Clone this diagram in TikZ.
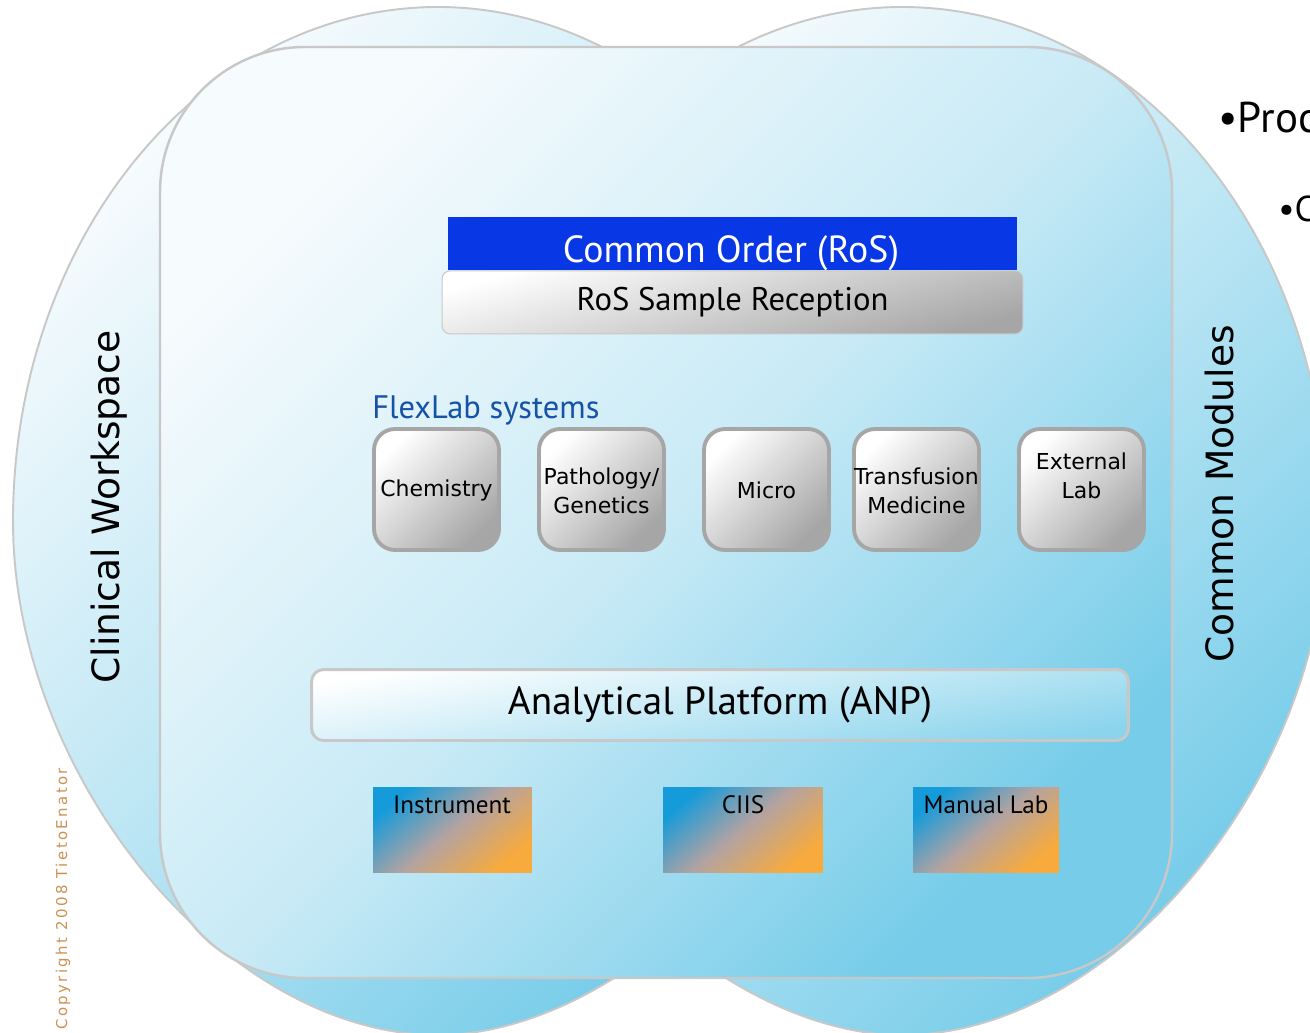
\documentclass[tikz,border=0pt]{standalone}
\usepackage{fontspec}
\setmainfont{DejaVu Sans}
\newfontfamily\slimfont{PT Sans}
\usetikzlibrary{positioning}

\definecolor{paleblue}{RGB}{246,251,253}
\definecolor{skyblue}{RGB}{118,204,233}
\definecolor{rimgrey}{RGB}{200,200,200}
\definecolor{boxgrey}{RGB}{166,166,166}
\definecolor{orderblue}{RGB}{8,55,230}
\definecolor{flexblue}{RGB}{22,82,168}
\definecolor{srcblue}{RGB}{22,155,218}
\definecolor{srcorange}{RGB}{248,170,60}
\definecolor{srcmid}{RGB}{180,163,160}
\definecolor{copyorange}{RGB}{204,145,82}

\tikzset{
  lobe/.style={draw=rimgrey, line width=1.1pt, top color=paleblue, bottom color=skyblue, middle color=skyblue!45!paleblue, shading angle=45},
  panel/.style={draw=rimgrey, line width=1.4pt, top color=paleblue, bottom color=skyblue, middle color=skyblue!35!paleblue, shading angle=45, rounded corners=2.9cm},
  orderbar/.style={fill=orderblue, minimum width=11.38cm, minimum height=1.06cm, inner sep=0pt},
  receptbar/.style={draw=rimgrey, line width=0.6pt, top color=white, bottom color=boxgrey, shading angle=15, rounded corners=0.16cm,
    minimum width=11.62cm, minimum height=1.26cm, inner sep=0pt, font=\slimfont\fontsize{18.6}{22}\selectfont},
  labbox/.style={draw=boxgrey, line width=2.2pt, top color=white, bottom color=boxgrey, shading angle=45, rounded corners=0.42cm,
    minimum width=2.5cm, minimum height=2.42cm, inner sep=0pt},
  labtext/.style={font=\fontsize{12.5}{16.5}\selectfont, align=center, inner sep=0pt},
  anpbar/.style={draw=rimgrey, line width=1.7pt, top color=white, bottom color=skyblue!85!white, shading angle=10, rounded corners=0.24cm,
    minimum width=16.34cm, minimum height=1.42cm, inner sep=0pt, font=\slimfont\fontsize{22.3}{26}\selectfont},
  srcbox/.style={top color=srcblue, bottom color=srcorange, middle color=srcmid, shading angle=40, minimum height=1.7cm, inner sep=0pt},
  srctext/.style={font=\slimfont\fontsize{14.3}{17}\selectfont, anchor=base, inner sep=0pt},
  sidetext/.style={font=\fontsize{21.4}{25}\selectfont, rotate=90, anchor=base, inner sep=0pt},
}

\begin{document}
\begin{tikzpicture}[x=0.02cm, y=-0.02cm]
\useasboundingbox (0,0) rectangle (1310,1033);

% the two lobes behind the workspace
\path[lobe] (438,7) .. controls (203,7) and (13,237) .. (13,521)
  .. controls (13,778) and (226,1035) .. (438,1035)
  .. controls (620,1035) and (863,820) .. (863,521)
  .. controls (863,220) and (660,7) .. (438,7) -- cycle;
\path[lobe] (902,7) .. controls (1137,7) and (1327,237) .. (1327,521)
  .. controls (1327,778) and (1114,1035) .. (902,1035)
  .. controls (720,1035) and (477,820) .. (477,521)
  .. controls (477,220) and (680,7) .. (902,7) -- cycle;
\path[panel] (160,47) rectangle (1172,978);

\node[sidetext] (clinical) at (119,507) {Clinical Workspace};
\node[sidetext] (modules) at (1233,494) {Common Modules};
\node[font=\fontsize{8.5}{10}\selectfont\addfontfeature{LetterSpace=16}, text=copyorange, rotate=90, anchor=base west, inner sep=0pt]
  (copyright) at (67,1030) {Copyright 2008 TietoEnator};
\node[font=\slimfont\fontsize{24.5}{29}\selectfont, anchor=base west, inner sep=0pt] (proc) at (1218,133) {•Proc};
\node[font=\slimfont\fontsize{20.5}{24}\selectfont, anchor=base west, inner sep=0pt] (cpoint) at (1278,222) {•C};

% order and reception
\node[orderbar] (order) at (732.5,243.5) {};
\node[font=\slimfont\fontsize{21.5}{26}\selectfont, text=white, anchor=base, inner sep=0pt] (ordertext) at (731,263) {Common Order (RoS)};
\node[receptbar, below=0pt of order] (recept) {RoS Sample Reception};

% flexlab systems
\node[font=\slimfont\fontsize{18.5}{22}\selectfont, text=flexblue, anchor=base west, inner sep=0pt] (flexlab) at (372,418) {FlexLab systems};
\foreach \cx/\nm/\txt in {436.5/chem/Chemistry, 601.5/patho/{Pathology\slash\\Genetics}, 766.5/micro/Micro,
    916.5/transf/{Transfusion\\Medicine}, 1081.5/extlab/{External\\Lab\\~}}{
  \node[labbox] (\nm) at (\cx,489.5) {};
  \node[labtext] (\nm-t) at ([yshift=-0.6pt]\nm) {\txt};
}

% analytical platform and its sources
\node[anpbar] (anp) at (720,705) {Analytical Platform (ANP)};
\node[srcbox, minimum width=3.18cm] (instr) at (452.5,829.5) {};
\node[srcbox, minimum width=3.2cm] (ciis) at (743,829.5) {};
\node[srcbox, minimum width=2.92cm] (manual) at (986,829.5) {};
\node[srctext] (instr-t) at (452,813) {Instrument};
\node[srctext] (ciis-t) at (743,813) {CIIS};
\node[srctext] (manual-t) at (986,813) {Manual Lab};
\end{tikzpicture}
\end{document}
